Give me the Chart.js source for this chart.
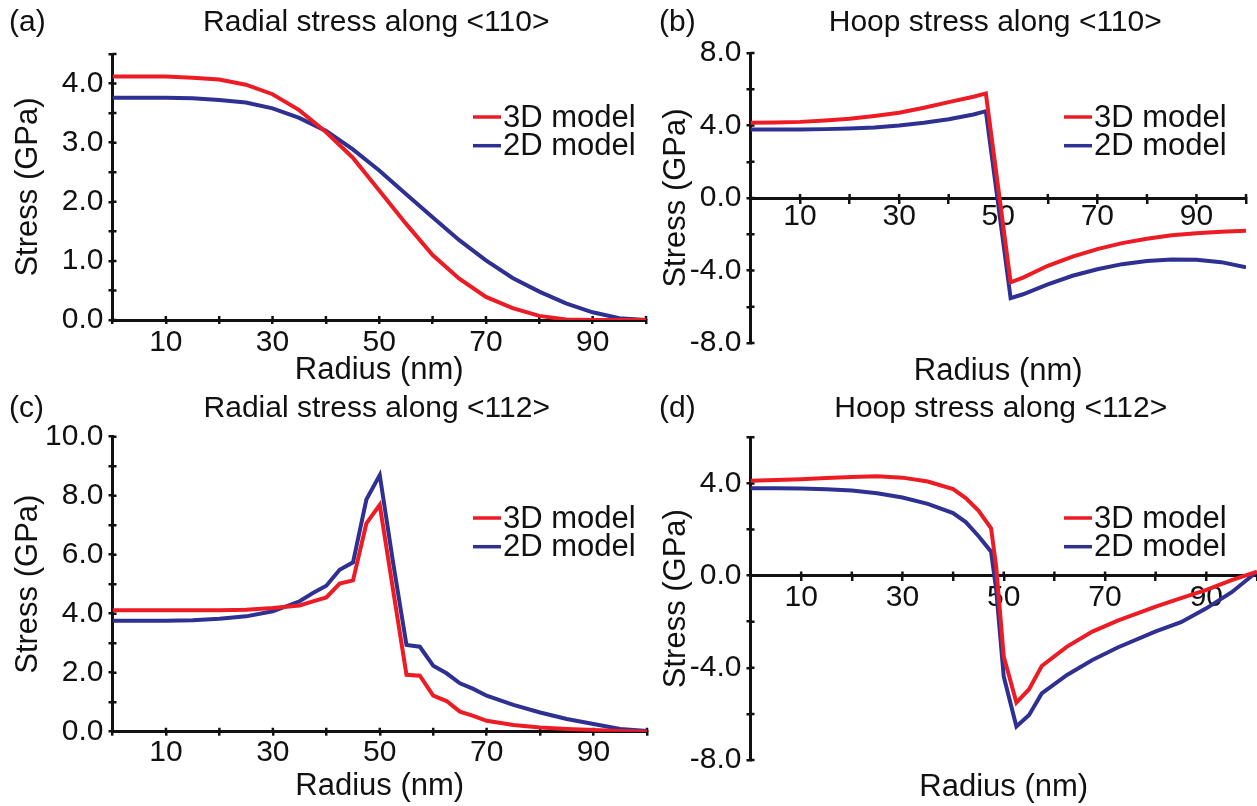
<!DOCTYPE html>
<html>
<head>
<meta charset="utf-8">
<title>Stress along 110 and 112</title>
<script src="https://cdn.jsdelivr.net/npm/chart.js@4.4.1/dist/chart.umd.min.js"></script>
<style>
  html, body { margin: 0; padding: 0; background: #fff; }
  body { width: 1257px; height: 806px; position: relative; overflow: hidden; }
  .panel { position: absolute; }
</style>
</head>
<body>
<div class="panel" style="left:0;top:0;width:660px;height:400px"><canvas id="chart-a"></canvas></div>
<div class="panel" style="left:640px;top:0;width:620px;height:400px"><canvas id="chart-b"></canvas></div>
<div class="panel" style="left:0;top:390px;width:660px;height:416px"><canvas id="chart-c"></canvas></div>
<div class="panel" style="left:640px;top:390px;width:620px;height:416px"><canvas id="chart-d"></canvas></div>
<script>
(function () {
    'use strict';

    // ---- data ----
    const seriesNames = ['3D model', '2D model'];
    const seriesColors = ['#ED1C24', '#2E3192'];
    const radiusTickLabels = [10, 30, 50, 70, 90];

    // (a) radial stress along <110>
    const radiusA = [0, 5, 10, 15, 20, 25, 30, 35, 40, 45, 50, 55, 60, 65, 70, 75, 80, 85, 90, 95, 100];
    const radial110_3D = [4.12, 4.12, 4.12, 4.10, 4.07, 3.98, 3.82, 3.55, 3.18, 2.75, 2.19, 1.63, 1.10, 0.70, 0.39, 0.20, 0.07, 0.01, 0, 0, 0];
    const radial110_2D = [3.76, 3.76, 3.76, 3.75, 3.72, 3.68, 3.58, 3.42, 3.20, 2.89, 2.53, 2.13, 1.74, 1.35, 1.01, 0.71, 0.48, 0.28, 0.13, 0.03, 0];
    const yLabelsA = [0, 1, 2, 3, 4];

    // (b) hoop stress along <110>
    const radiusB = [0, 5, 10, 15, 20, 25, 30, 35, 40, 45, 47.5, 52.5, 55, 60, 65, 70, 75, 80, 85, 90, 95, 100];
    const hoop110_3D = [4.15, 4.17, 4.20, 4.28, 4.37, 4.52, 4.70, 4.98, 5.29, 5.59, 5.77, -4.65, -4.39, -3.74, -3.23, -2.82, -2.49, -2.25, -2.06, -1.94, -1.86, -1.81];
    const hoop110_2D = [3.78, 3.78, 3.78, 3.80, 3.83, 3.89, 4.00, 4.15, 4.35, 4.61, 4.79, -5.53, -5.31, -4.76, -4.29, -3.93, -3.65, -3.48, -3.39, -3.41, -3.54, -3.82];
    const yLabelsB = [-8, -4, 0, 4, 8];

    // (c) radial stress along <112>
    const radiusC = [0, 5, 10, 15, 20, 25, 30, 35, 37.5, 40, 42.5, 45, 47.5, 50, 52.5, 55, 57.5, 60, 62.5, 65, 67.5, 70, 75, 80, 85, 90, 95, 100];
    const radial112_3D = [4.12, 4.12, 4.12, 4.12, 4.12, 4.13, 4.19, 4.28, 4.42, 4.55, 5.02, 5.13, 7.06, 7.69, 4.80, 1.93, 1.90, 1.22, 1.04, 0.68, 0.54, 0.37, 0.23, 0.14, 0.09, 0.06, 0.02, 0];
    const radial112_2D = [3.76, 3.76, 3.76, 3.78, 3.83, 3.91, 4.08, 4.42, 4.70, 4.95, 5.49, 5.74, 7.87, 8.70, 5.73, 2.94, 2.88, 2.24, 1.98, 1.64, 1.45, 1.22, 0.91, 0.65, 0.43, 0.26, 0.09, 0.02];
    const yLabelsC = [0, 2, 4, 6, 8, 10];

    // (d) hoop stress along <112>
    const radiusD = [0, 5, 10, 15, 20, 25, 30, 35, 40, 42.5, 45, 47.5, 48.5, 50, 52.5, 55, 57.5, 62.5, 67.5, 72.5, 80, 85, 90, 95, 100];
    const hoop112_3D = [4.12, 4.15, 4.18, 4.23, 4.28, 4.31, 4.25, 4.08, 3.75, 3.36, 2.82, 2.05, 0.40, -3.51, -5.51, -4.93, -3.92, -3.08, -2.43, -1.95, -1.35, -0.98, -0.62, -0.20, 0.17];
    const hoop112_2D = [3.79, 3.79, 3.78, 3.75, 3.69, 3.57, 3.39, 3.11, 2.71, 2.32, 1.72, 1.04, -0.60, -4.38, -6.55, -6.05, -5.11, -4.31, -3.66, -3.12, -2.42, -2.02, -1.42, -0.72, 0.17];
    const yLabelsD = [-8, -4, 0, 4];

    // ---- look ----
    const ink = '#111';
    const family = "'Liberation Sans', Arial, Helvetica, sans-serif";
    Chart.defaults.font.family = family;
    Chart.defaults.color = ink;

    const panels = [
        {
            id: 'chart-a', tag: '(a)', title: 'Radial stress along <110>',
            radius: radiusA, values: [radial110_3D, radial110_2D], yLabels: yLabelsA,
            yMin: 0, yMax: 4.5, yStep: 0.5, xAtZero: false,
            w: 660, h: 400, area: { left: 112.5, top: 54, right: 646, bottom: 320 },
            titlePad: 13, xPad: 4, headY: 31, tagX: 9, xTitleY: 379,
            legendX: 473, legendY: 117
        },
        {
            id: 'chart-b', tag: '(b)', title: 'Hoop stress along <110>',
            radius: radiusB, values: [hoop110_3D, hoop110_2D], yLabels: yLabelsB,
            yMin: -8, yMax: 8, yStep: 2, xAtZero: true,
            w: 620, h: 400, area: { left: 110.5, top: 53, right: 606, bottom: 343 },
            titlePad: 21, xPad: 0, headY: 31, tagX: 19, xTitleY: 380,
            legendX: 424, legendY: 117
        },
        {
            id: 'chart-c', tag: '(c)', title: 'Radial stress along <112>',
            radius: radiusC, values: [radial112_3D, radial112_2D], yLabels: yLabelsC,
            yMin: 0, yMax: 10, yStep: 1, xAtZero: false,
            w: 660, h: 416, area: { left: 112.5, top: 46.7, right: 647, bottom: 341.7 },
            titlePad: 13, xPad: 2, headY: 27, tagX: 9, xTitleY: 405,
            legendX: 473, legendY: 128
        },
        {
            id: 'chart-d', tag: '(d)', title: 'Hoop stress along <112>',
            radius: radiusD, values: [hoop112_3D, hoop112_2D], yLabels: yLabelsD,
            yMin: -8, yMax: 6, yStep: 2, xAtZero: true,
            w: 620, h: 416, area: { left: 110.5, top: 47.3, right: 618, bottom: 370 },
            titlePad: 21, xPad: 3, headY: 27, tagX: 19, xTitleY: 406,
            legendX: 424, legendY: 128
        }
    ];

    // panel letter, title, x-axis title and the in-plot legend
    const panelText = {
        id: 'panelText',
        afterDraw(chart, args, o) {
            const ctx = chart.ctx;
            const a = chart.chartArea;
            const cx = (a.left + a.right) / 2;
            ctx.save();
            ctx.fillStyle = ink;
            ctx.textBaseline = 'alphabetic';
            ctx.font = '30px ' + family;
            ctx.textAlign = 'left';
            ctx.fillText(o.tag, o.tagX, o.headY);
            ctx.textAlign = 'center';
            ctx.fillText(o.title, cx - 3, o.headY);
            ctx.font = '31px ' + family;
            ctx.fillText('Radius (nm)', cx, o.xTitleY);

            ctx.textAlign = 'left';
            ctx.textBaseline = 'middle';
            ctx.font = '31px ' + family;
            chart.data.datasets.forEach((ds, i) => {
                const y = o.legendY + i * 28.7;
                ctx.strokeStyle = ds.borderColor;
                ctx.lineWidth = 3.5;
                ctx.beginPath();
                ctx.moveTo(o.legendX, y);
                ctx.lineTo(o.legendX + 28, y);
                ctx.stroke();
                ctx.fillText(ds.label, o.legendX + 30, y + 1);
            });
            ctx.restore();
        }
    };

    // tick marks that cross the axis lines (inner half)
    const innerTicks = {
        id: 'innerTicks',
        beforeDatasetsDraw(chart) {
            const ctx = chart.ctx;
            const a = chart.chartArea;
            const xs = chart.scales.x;
            const ys = chart.scales.y;
            const axisY = ys.getPixelForValue(0);
            ctx.save();
            ctx.strokeStyle = ink;
            ctx.lineWidth = 2.5;
            ctx.beginPath();
            xs.ticks.forEach(t => {
                const px = xs.getPixelForValue(t.value);
                ctx.moveTo(px, axisY);
                ctx.lineTo(px, axisY - 4);
            });
            ys.ticks.forEach(t => {
                const py = ys.getPixelForValue(t.value);
                ctx.moveTo(a.left, py);
                ctx.lineTo(a.left + 4, py);
            });
            ctx.stroke();
            ctx.restore();
        }
    };

    function makeChart(p) {
        const el = document.getElementById(p.id);
        const datasets = p.values.map((vals, i) => ({
            label: seriesNames[i],
            data: p.radius.map((r, j) => ({ x: r, y: vals[j] })),
            borderColor: seriesColors[i],
            backgroundColor: seriesColors[i],
            borderWidth: 4,
            pointRadius: 0,
            tension: 0,
            fill: false
        }));

        const axisGrid = {
            display: true,
            drawOnChartArea: false,
            drawTicks: true,
            tickLength: 4,
            color: ink,
            lineWidth: 2.5
        };
        const axisBorder = { display: true, color: ink, width: 3 };

        return new Chart(el.getContext('2d'), {
            type: 'line',
            data: { datasets: datasets },
            options: {
                responsive: true,
                maintainAspectRatio: false,
                animation: false,
                devicePixelRatio: 1,
                events: [],
                layout: {
                    padding: {
                        left: 0,
                        top: p.area.top,
                        right: p.w - p.area.right,
                        bottom: p.xAtZero ? p.h - p.area.bottom : 0
                    }
                },
                scales: {
                    x: {
                        type: 'linear',
                        min: 0,
                        max: 100,
                        position: p.xAtZero ? { y: 0 } : 'bottom',
                        grid: axisGrid,
                        border: axisBorder,
                        ticks: {
                            stepSize: 10,
                            autoSkip: false,
                            maxRotation: 0,
                            padding: p.xPad,
                            font: { size: 30, lineHeight: 1 },
                            color: ink,
                            callback: v => radiusTickLabels.includes(v) ? String(v) : ''
                        },
                        afterFit: s => { if (!p.xAtZero) s.height = p.h - p.area.bottom; }
                    },
                    y: {
                        type: 'linear',
                        min: p.yMin,
                        max: p.yMax,
                        position: 'left',
                        grid: axisGrid,
                        border: axisBorder,
                        title: {
                            display: true,
                            text: 'Stress (GPa)',
                            color: ink,
                            font: { size: 31, lineHeight: 1 },
                            padding: { top: p.titlePad, bottom: 0 }
                        },
                        ticks: {
                            stepSize: p.yStep,
                            autoSkip: false,
                            padding: 5,
                            font: { size: 30, lineHeight: 1 },
                            color: ink,
                            callback: v => p.yLabels.includes(v) ? v.toFixed(1) : ''
                        },
                        afterFit: s => { s.width = p.area.left; }
                    }
                },
                plugins: {
                    legend: { display: false },
                    tooltip: { enabled: false },
                    title: { display: false },
                    panelText: p
                }
            },
            plugins: [innerTicks, panelText]
        });
    }

    panels.forEach(makeChart);
})();
</script>
</body>
</html>
